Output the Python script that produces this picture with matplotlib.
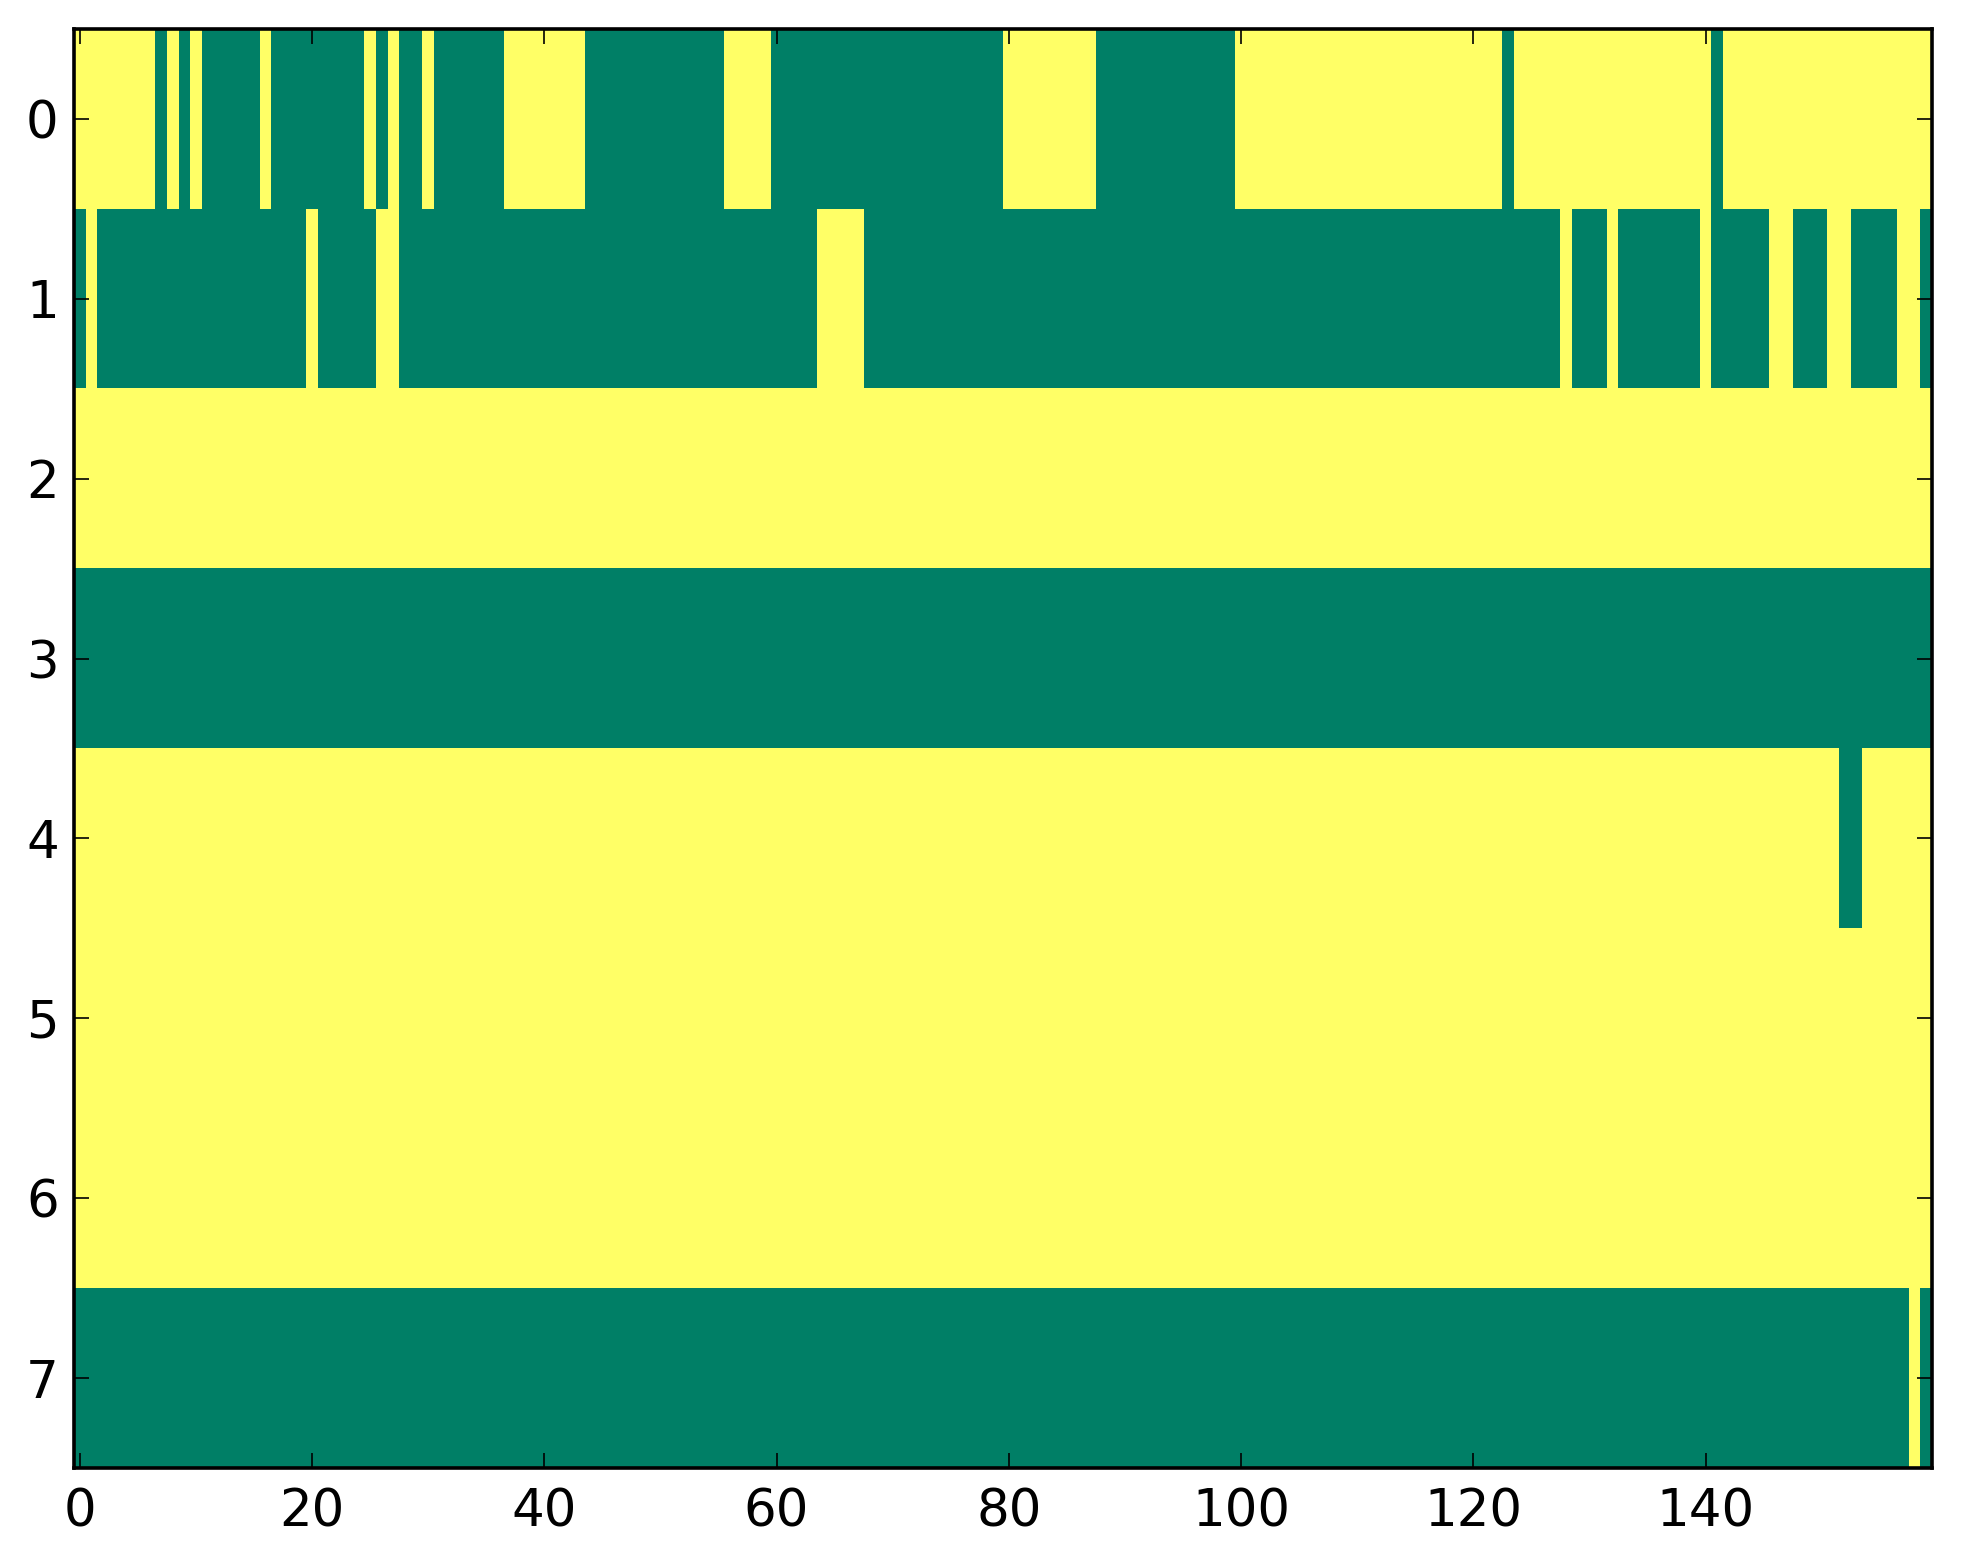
import numpy as np
import matplotlib
matplotlib.use("Agg")
import matplotlib.pyplot as plt

n_cols = 160
row_labels = [0, 1, 2, 3, 4, 5, 6, 7]
x_ticks = [0, 20, 40, 60, 80, 100, 120, 140]

# runs of value 1 (yellow) per row, inclusive column ranges; everything else is 0
row0_ones = [(0, 6), (8, 8), (10, 10), (16, 16), (25, 25), (27, 27), (30, 30),
             (37, 43), (56, 59), (80, 87), (100, 122), (124, 140), (142, 159)]
row1_ones = [(1, 1), (20, 20), (26, 27), (64, 67), (128, 128), (132, 132),
             (140, 140), (146, 147), (151, 152), (157, 158)]
row2_ones = [(0, 159)]
row3_ones = []
row4_ones = [(0, 151), (154, 159)]
row5_ones = [(0, 159)]
row6_ones = [(0, 159)]
row7_ones = [(158, 158)]

all_rows = [row0_ones, row1_ones, row2_ones, row3_ones,
            row4_ones, row5_ones, row6_ones, row7_ones]


def build_matrix(rows, width):
    mat = np.zeros((len(rows), width))
    for i, runs in enumerate(rows):
        for a, b in runs:
            mat[i, a:b + 1] = 1
    return mat


def main():
    data = build_matrix(all_rows, n_cols)

    fig = plt.figure(figsize=(9.815, 7.82), dpi=200)
    ax = fig.add_axes([0.0377, 0.0614, 0.9465, 0.920])
    ax.imshow(data, cmap="summer", aspect="auto", interpolation="nearest",
              vmin=0, vmax=1)

    ax.set_xticks(x_ticks)
    ax.set_yticks(row_labels)
    ax.tick_params(direction="in", top=True, right=True, length=5.5,
                   width=0.6, labelsize=18.5)
    ax.tick_params(axis="x", pad=7)
    ax.tick_params(axis="y", pad=5.5)
    for s in ax.spines.values():
        s.set_linewidth(1.3)

    fig.savefig("out.png", dpi=200)


if __name__ == "__main__":
    main()
